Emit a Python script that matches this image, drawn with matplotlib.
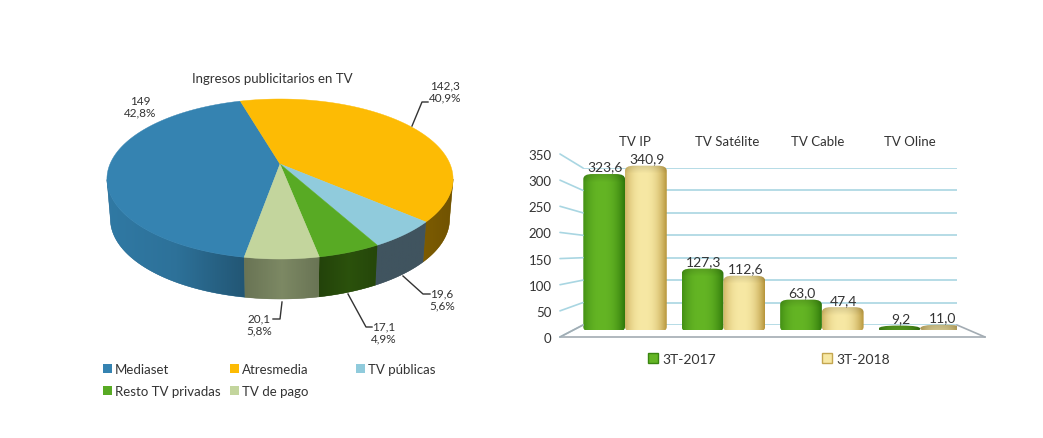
import numpy as np
import matplotlib
matplotlib.use("Agg")
import matplotlib.pyplot as plt
from matplotlib.colors import to_rgb
from matplotlib.patches import Polygon, FancyBboxPatch, ConnectionPatch, Patch

plt.rcParams['font.family'] = ['Lato', 'DejaVu Sans']

W, H = 1043, 439

pie_names = ["Mediaset", "Atresmedia", "TV públicas", "Resto TV privadas", "TV de pago"]
pie_values = [149, 142.3, 19.6, 17.1, 20.1]
pie_labels = ["149\n42,8%", "142,3\n40,9%", "19,6\n5,6%", "17,1\n4,9%", "20,1\n5,8%"]
pie_top = ["#3583b1", "#fdbb04", "#90cbdc", "#58aa24", "#c3d59d"]
pie_side = ["#2b6c92", "#7d5c02", "#40545f", "#274a0b", "#6f7a59"]

bar_cats = ["TV IP", "TV Satélite", "TV Cable", "TV Oline"]
bar_2017 = [323.6, 127.3, 63.0, 9.2]
bar_2018 = [340.9, 112.6, 47.4, 11.0]
bar_names = ["3T-2017", "3T-2018"]
y_ticks = [0, 50, 100, 150, 200, 250, 300, 350]


def px_axes(fig, x0, y_top, x1, y_bottom):
    """axes placed with pixel edges, y counted from the top of the image"""
    return fig.add_axes([x0/W, 1 - y_bottom/H, (x1-x0)/W, (y_bottom-y_top)/H])


def pie_point(theta, scale=1.0):
    # circle seen in perspective, theta clockwise from the back
    u, v = np.sin(theta), np.cos(theta)
    w = 1 + 0.1875*v
    return 280 + scale*170*u/w, 165 - 77.2*v/w


fig = plt.figure(figsize=(W/100, H/100), dpi=100)

# pie, drawn by hand because of the extruded rim
ax = fig.add_axes([0, 0, 1, 1])
ax.axis("off")

depth = 40
start = np.radians(-16) - 2*np.pi*pie_values[0]/sum(pie_values)
edges = start + 2*np.pi*np.cumsum([0] + pie_values)/sum(pie_values)
# brightness of the rim left, middle and right of each slice
rim_shade = [(1.12, 1.05, 0.8), (1.0, 0.95, 0.9), (1.0, 1.0, 1.0), (0.9, 1.1, 0.95), (0.95, 1.12, 0.95)]

for i in range(len(pie_values)):
    t = np.linspace(edges[i], edges[i+1], 200)
    # rim starts where the ellipse is widest, cos(t) = -0.1875
    t = t[np.cos(t) < -0.1875]
    x, y = pie_point(t)
    xb, yb = pie_point(t, 0.98)
    pts = np.column_stack([np.r_[x, xb[::-1]], np.r_[y, yb[::-1] + depth]])
    rim = Polygon(pts, facecolor=pie_side[i], edgecolor=pie_side[i], lw=0.3, zorder=2)
    ax.add_patch(rim)
    f = np.interp(np.linspace(0, 1, 60), [0, 0.5, 1], rim_shade[i])
    grad = np.clip(np.outer(f, to_rgb(pie_side[i])), 0, 1)[None, :, :]
    im = ax.imshow(grad, extent=(pts[:, 0].min(), pts[:, 0].max(), pts[:, 1].max(), pts[:, 1].min()),
                   aspect="auto", zorder=2.1)
    im.set_clip_path(rim)

for i in range(len(pie_values)):
    t = np.linspace(edges[i], edges[i+1], 200)
    x, y = pie_point(t)
    pts = np.column_stack([np.r_[280, x], np.r_[165, y]])
    ax.add_patch(Polygon(pts, facecolor=pie_top[i], edgecolor=pie_top[i], lw=0.3, zorder=3))

ax.set_xlim(0, W)
ax.set_ylim(H, 0)

leaders = [None,
           [(412, 127), (422, 103), (428, 103)],
           [(403, 277), (423, 295), (430, 295)],
           [(348, 295), (366, 328), (372, 328)],
           [(282, 303), (280, 320), (273, 320)]]
label_pos = [(140, 107), (445, 92), (442, 300), (384, 333), (259, 325)]
for i in range(len(pie_labels)):
    ax.text(label_pos[i][0], label_pos[i][1], pie_labels[i], ha="center", va="center",
            fontsize=8.5, color="#333333", linespacing=1.1, zorder=5)
    if leaders[i] is not None:
        ax.plot(*zip(*leaders[i]), color="#333333", lw=1.0, zorder=4)

ax.text(272, 79, "Ingresos publicitarios en TV", ha="center", va="center",
        fontsize=9.5, color="#333333")

# one legend per column, the columns are not evenly spaced in the original
columns = [([0, 3], 103), ([1, 4], 230), ([2], 356)]
for idx, left in columns:
    handles = [Patch(facecolor=pie_top[i], label=pie_names[i]) for i in idx]
    fig.legend(handles=handles, loc="upper left", bbox_to_anchor=(left/W, 1 - 364.5/H),
               frameon=False, fontsize=9.5, labelcolor="#333333", handlelength=0.65,
               handleheight=0.65, handletextpad=0.25, labelspacing=0.72,
               borderpad=0, borderaxespad=0)

# bars: front plane holds the value axis, back plane the grid
ax_front = px_axes(fig, 560, 155, 985, 338)
ax_back = px_axes(fig, 583, 169, 957, 326)
ax_bars = px_axes(fig, 583, 162.3, 957, 331)

grid_col = "#a9d6e2"
floor_col = "#a3acb3"

ax_front.set_xlim(0, 1)
ax_front.set_ylim(0, 350)
ax_front.set_xticks([])
ax_front.set_yticks(y_ticks)
ax_front.tick_params(axis="y", length=0, pad=6, labelsize=9.5, labelcolor="#333333")
for s in ax_front.spines.values():
    s.set_visible(False)
ax_front.spines["bottom"].set_visible(True)
ax_front.spines["bottom"].set_color(floor_col)
ax_front.spines["bottom"].set_linewidth(1.2)
ax_front.patch.set_alpha(0)

ax_back.set_xlim(0, 1)
ax_back.set_ylim(0, 350)
ax_back.axis("off")
ax_back.hlines(y_ticks, 0, 1, color=grid_col, lw=1.2)
for v in y_ticks:
    con = ConnectionPatch(xyA=(0, v), coordsA=ax_front.transData, xyB=(0, v),
                          coordsB=ax_back.transData, color=grid_col, lw=1.2)
    fig.add_artist(con)
fig.add_artist(ConnectionPatch(xyA=(1, 0), coordsA=ax_front.transData, xyB=(1, 0),
                               coordsB=ax_back.transData, color=floor_col, lw=1.2))
fig.add_artist(ConnectionPatch(xyA=(0, 0), coordsA=ax_front.transData, xyB=(0, 0),
                               coordsB=ax_back.transData, color=floor_col, lw=1.2))

ax_bars.axis("off")

bar_w = 0.424
px_x = (957-583)/3.8
px_y = (331-162.3)/350
colours = [("#64b524", "#3a8510"), ("#f7e8a4", "#c4a650")]
cap = 2/px_y  # lower cap of the cylinder hangs 2 px under the zero line


def cylinder(base, edge, height_px):
    # horizontal shading, plus a darker band where the top cap bends
    rows = max(int(height_px), 2)
    s = np.linspace(-1, 1, 80)
    m = np.abs(s + 0.1)**2.4
    b, e = np.array(to_rgb(base)), np.array(to_rgb(edge))
    img = np.zeros((rows, 80, 3))
    for c in range(3):
        img[:, :, c] = b[c]*(1-m) + e[c]*m
    top = np.clip((height_px - np.arange(rows)*height_px/rows)/9.0, 0, 1)
    img *= (0.86 + 0.14*top)[:, None, None]
    return np.clip(img, 0, 1)


x = np.arange(len(bar_cats)) - 0.073
for j, values in enumerate([bar_2017, bar_2018]):
    xs = x + (j - 0.5)*bar_w
    bars = ax_bars.bar(xs, values, bar_w, color="none")
    for b, v in zip(bars, values):
        bx, bw, bh = b.get_x(), b.get_width(), b.get_height()
        total_px = (bh + cap)*px_y
        ry = min(5, total_px/2)
        rx = 9 if total_px > 20 else bw*px_x*0.45
        # rounding is given in x pixels, aspect turns it into flatter corners
        box = FancyBboxPatch((bx, -cap), bw, bh + cap,
                             boxstyle="round,pad=0,rounding_size=%f" % (rx/px_x),
                             mutation_aspect=(ry/px_y)/(rx/px_x), facecolor="none", edgecolor="none",
                             transform=ax_bars.transData, clip_on=False)
        ax_bars.add_patch(box)
        img = cylinder(colours[j][0], colours[j][1], total_px)
        if total_px <= 20:
            # the flat discs read darker than the tall bars
            img = img*0.88
        im = ax_bars.imshow(img, extent=(bx, bx+bw, -cap, bh), aspect="auto", origin="lower", zorder=3)
        im.set_clip_path(box)
        ax_bars.text(bx + bw/2 + 0.01, bh + 3, ("%.1f" % v).replace(".", ","), ha="center", va="bottom",
                     fontsize=10, color="#333333", zorder=6, clip_on=False)
ax_bars.set_xlim(-0.5, 3.3)
ax_bars.set_ylim(0, 350)

for xc, name in zip([635, 727, 818, 910], bar_cats):
    ax.text(xc, 142, name, ha="center", va="center", fontsize=9.5, color="#333333")

handles = [Patch(facecolor=colours[0][0], edgecolor=colours[0][1], label=bar_names[0]),
           Patch(facecolor=colours[1][0], edgecolor=colours[1][1], label=bar_names[1])]
fig.legend(handles=handles, loc="upper left", bbox_to_anchor=(648/W, 1 - 354/H), ncol=2,
           frameon=False, fontsize=10, labelcolor="#333333", handlelength=0.7, handleheight=0.7,
           handletextpad=0.3, columnspacing=7.7, borderpad=0, borderaxespad=0)

fig.savefig("out.png", dpi=100)
